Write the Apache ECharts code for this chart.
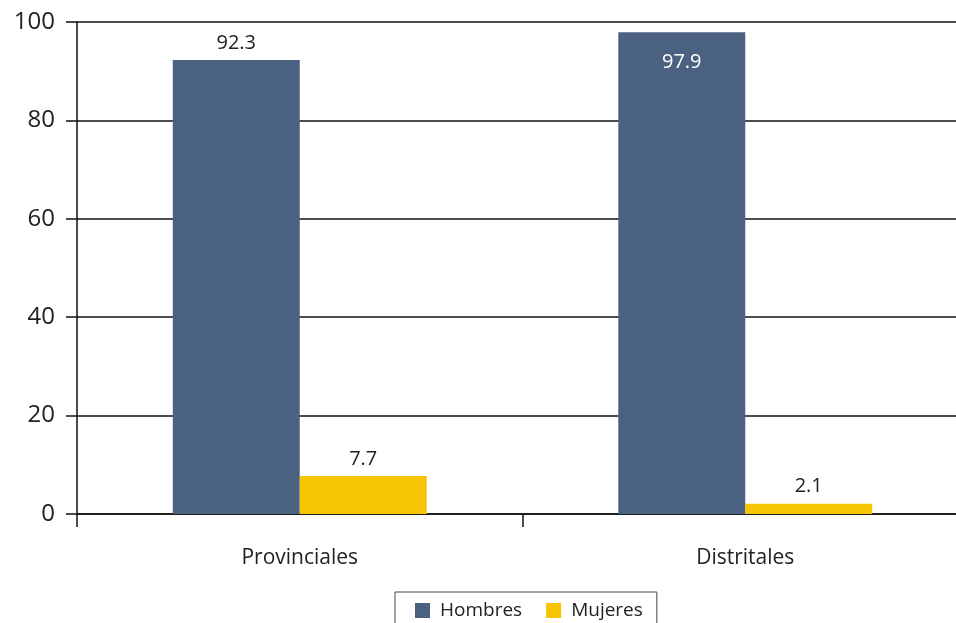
<!DOCTYPE html>
<html lang="es">
<head>
	<meta charset="UTF-8">
	<title>Hombres y Mujeres</title>
	<script src="https://cdn.jsdelivr.net/npm/echarts@6/dist/echarts.min.js"></script>
	<style>
		html, body { margin: 0; padding: 0; background: #fff; overflow: hidden; }
	</style>
</head>
<body>
	<!-- el área del gráfico continúa a la derecha, fuera del recorte -->
	<div id="chart" style="width: 970px; height: 623px;"></div>
	<script type="text/javascript">
		const categories = ['Provinciales', 'Distritales'];
		const hombres = [92.3, 97.9];
		const mujeres = [7.7, 2.1];
		const yTicks = [0, 20, 40, 60, 80, 100];

		const font = 'Open Sans';
		const chart = echarts.init(document.getElementById('chart'));

		// la barra de 97.9 lleva la etiqueta dentro, en blanco
		const hombresData = hombres.map(v => v > 95
			? { value: v, label: { position: 'insideTop', color: '#fff', distance: 20 } }
			: v);

		chart.setOption({
			animation: false,
			textStyle: { fontFamily: font },
			grid: { left: 77, right: 2, top: 22, bottom: 109 },
			legend: {
				bottom: -9,
				left: 395,
				itemWidth: 15,
				itemHeight: 15,
				itemGap: 24,
				padding: [9, 14, 12, 20],
				borderColor: '#444',
				borderWidth: 1,
				icon: 'rect',
				textStyle: { fontFamily: font, fontSize: 19, color: '#222', padding: [0, 0, 0, 5] },
				data: ['Hombres', 'Mujeres']
			},
			xAxis: {
				type: 'category',
				data: categories,
				axisLine: { lineStyle: { color: '#111', width: 1.5 } },
				axisTick: { show: true, length: 13, interval: 0, alignWithLabel: false, lineStyle: { color: '#111', width: 1.5 } },
				axisLabel: { margin: 34, fontFamily: font, fontSize: 21, color: '#222' }
			},
			yAxis: {
				type: 'value',
				min: yTicks[0],
				max: yTicks[yTicks.length - 1],
				interval: 20,
				axisLine: { show: true, lineStyle: { color: '#111', width: 1.5 } },
				axisTick: { show: true, length: 11, lineStyle: { color: '#111', width: 1.5 } },
				axisLabel: { margin: 22, fontFamily: font, fontSize: 24, color: '#222' },
				splitLine: { lineStyle: { color: '#111', width: 1.5 } }
			},
			series: [
				{
					name: 'Hombres',
					type: 'bar',
					data: hombresData,
					barGap: '0%',
					barCategoryGap: '43%',
					itemStyle: { color: '#4b6182' },
					label: { show: true, position: 'top', distance: 7, fontFamily: font, fontSize: 20, color: '#222', formatter: p => p.value.toFixed(1) }
				},
				{
					name: 'Mujeres',
					type: 'bar',
					data: mujeres,
					itemStyle: { color: '#f6c400' },
					label: { show: true, position: 'top', distance: 7, fontFamily: font, fontSize: 20, color: '#222', formatter: p => p.value.toFixed(1) }
				}
			]
		});
	</script>
</body>
</html>
